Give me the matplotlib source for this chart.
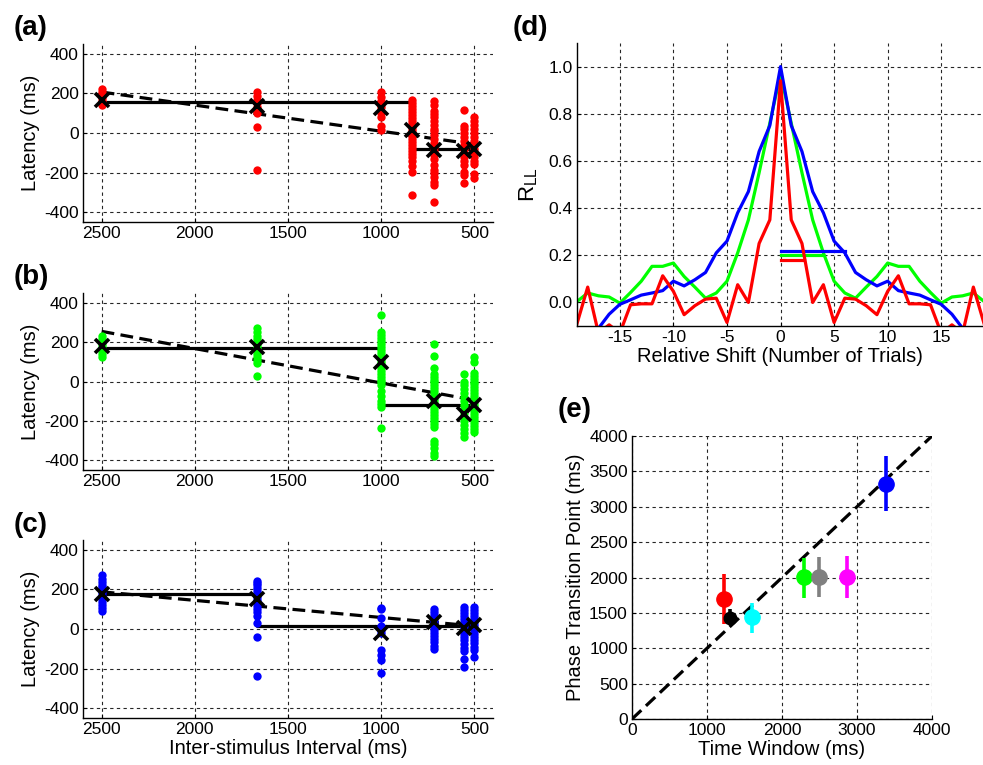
import matplotlib
matplotlib.use("Agg")
import matplotlib.pyplot as plt

plt.rcParams.update({
    "font.family": ["Liberation Sans", "DejaVu Sans"],
    "axes.unicode_minus": False,
    "mathtext.fontset": "custom",
    "mathtext.rm": "Liberation Sans",
    "mathtext.it": "Liberation Sans",
})

# ---------------- latency vs inter-stimulus interval ----------------
isi_a = [2500, 1667, 1000, 833, 714, 556, 500]
lat_a = [
    [220, 205, 190, 175, 160, 150, 140],
    [205, 185, 165, 150, 130, 110, 100, 30, -188],
    [205, 180, 160, 130, 100, 80, 35, 15],
    [165, 150, 135, 120, 105, 90, 75, 60, 45, 30, 15, 0, -15, -30, -45, -60,
     -75, -90, -105, -120, -140, -165, -195, -315],
    [160, 140, 110, 95, 80, 60, 40, 20, 10, -10, -30, -50, -70, -90, -110,
     -130, -160, -185, -200, -220, -250, -265, -350],
    [115, 35, 20, 0, -20, -40, -60, -80, -100, -120, -140, -160, -195, -210, -255],
    [80, 60, 40, 20, 0, -20, -40, -60, -80, -100, -120, -140, -155, -205, -225],
]
mean_a = [168, 134, 128, 13, -84, -92, -80]
step_a_x = [2500, 833, 500]
step_a_y = [155, -79]
fit_a_x = [2500, 500]
fit_a_y = [207, -57]

isi_b = [2500, 1667, 1000, 714, 556, 500]
lat_b = [
    [230, 215, 200, 185, 170, 155, 140, 125],
    [270, 250, 230, 215, 200, 185, 170, 155, 140, 125, 110, 95, 30],
    [340, 250, 235, 220, 205, 190, 175, 160, 145, 130, 115, 100, 85, 70, 55,
     40, 25, 10, -5, -20, -50, -75, -100, -115, -130, -238],
    [192, 130, 70, 40, 25, 10, -5, -20, -35, -50, -65, -80, -95, -110, -125,
     -140, -155, -170, -185, -200, -215, -230, -300, -320, -340, -365, -380],
    [40, 0, -20, -40, -60, -80, -100, -120, -140, -160, -180, -200, -220,
     -240, -260, -280],
    [124, 98, 45, 30, 15, 0, -15, -30, -45, -60, -75, -90, -105, -120, -135,
     -150, -165, -180, -195, -210, -225, -240, -258],
]
mean_b = [182, 174, 98, -100, -164, -121]
step_b_x = [2500, 1000, 500]
step_b_y = [172, -121]
fit_b_x = [2500, 500]
fit_b_y = [255, -95]

isi_c = [2500, 1667, 1000, 714, 556, 500]
lat_c = [
    [275, 255, 240, 225, 210, 195, 180, 165, 150, 135, 120, 105, 90],
    [245, 235, 220, 205, 190, 175, 160, 145, 130, 115, 100, 85, 65, 30, -38, -240],
    [105, 100, 55, 15, -5, -20, -105, -130, -155, -220],
    [100, 85, 70, 55, 40, 25, 10, -5, -20, -35, -50, -65, -85, -100],
    [110, 95, 80, 65, 50, 35, 20, 5, -10, -25, -40, -55, -75, -95, -110, -150, -190],
    [110, 95, 80, 65, 50, 35, 20, 5, -10, -25, -40, -55, -70, -90, -105, -140],
]
mean_c = [176, 154, -18, 37, 7, 20]
step_c_x = [2500, 1667, 500]
step_c_y = [176, 15]
fit_c_x = [2500, 500]
fit_c_y = [188, 15]

isi_ticks = [2500, 2000, 1500, 1000, 500]
lat_ticks = [400, 200, 0, -200, -400]

# ---------------- latency autocorrelation ----------------
shift = list(range(-19, 20))
r_green = [0.004, 0.04, 0.028, 0.023, -0.003, 0.042, 0.09, 0.153, 0.153, 0.167,
           0.11, 0.065, 0.018, 0.04, 0.09, 0.21, 0.35, 0.55, 0.76, 0.97,
           0.76, 0.55, 0.35, 0.21, 0.09, 0.04, 0.018, 0.065, 0.11, 0.167,
           0.153, 0.153, 0.09, 0.042, -0.003, 0.023, 0.028, 0.04, 0.004]
r_blue = [-0.2, -0.16, -0.11, -0.05, -0.008, 0.011, 0.031, 0.04, 0.05, 0.09,
          0.07, 0.096, 0.127, 0.21, 0.26, 0.38, 0.47, 0.64, 0.75, 1.0,
          0.75, 0.64, 0.47, 0.38, 0.26, 0.21, 0.127, 0.096, 0.07, 0.09,
          0.05, 0.04, 0.031, 0.011, -0.008, -0.05, -0.11, -0.16, -0.2]
r_red = [-0.09, 0.065, -0.13, -0.095, -0.13, -0.01, -0.006, -0.006, 0.113, 0.047,
         -0.052, -0.014, 0.014, 0.018, -0.085, 0.075, 0.0, 0.25, 0.35, 0.94,
         0.35, 0.25, 0.0, 0.075, -0.085, 0.018, 0.014, -0.014, -0.052, 0.047,
         0.113, -0.006, -0.006, -0.01, -0.13, -0.095, -0.13, 0.065, -0.09]
half_width = {"green": (4.0, 0.20), "blue": (6.0, 0.22), "red": (2.2, 0.18)}

# ---------------- phase transition point vs time window ----------------
tw_x = [1300, 1220, 1596, 2293, 2492, 2860, 3392]
tw_y = [1424, 1692, 1438, 2002, 2011, 2011, 3327]
tw_lo = [1350, 1339, 1222, 1706, 1729, 1706, 2937]
tw_hi = [1560, 2044, 1645, 2270, 2284, 2307, 3712]
tw_colors = ["black", "red", "cyan", "lime", "gray", "magenta", "blue"]

W, H = 983, 765
fig = plt.figure(figsize=(W / 100, H / 100), dpi=100)


def add_axes_px(left, top, right, bottom):
    return fig.add_axes([left / W, 1 - bottom / H, (right - left) / W, (bottom - top) / H])


def style(ax):
    for s in ("top", "right"):
        ax.spines[s].set_visible(False)
    for s in ("left", "bottom"):
        ax.spines[s].set_linewidth(1.0)
    ax.grid(True, color="0.15", linestyle=(0, (3, 3)), linewidth=0.8)
    ax.set_axisbelow(True)
    ax.tick_params(direction="in", length=3, labelsize=12.5, width=0.8, pad=3)


def latency_panel(ax, isi, lat, means, sx, sy, fx, fy, color, xlabel=False):
    style(ax)
    # dashed regression line
    ax.plot(fx, fy, color="black", lw=2.3, linestyle=(0, (4, 2)), zorder=2)
    # step fit
    xs, ys = [], []
    for i, level in enumerate(sy):
        xs += [sx[i], sx[i + 1]]
        ys += [level, level]
    ax.plot(xs, ys, color="black", lw=2.3, zorder=2)
    for x, vals in zip(isi, lat):
        ax.plot([x] * len(vals), vals, "o", color=color, ms=6, mec="none", zorder=3)
    ax.plot(isi, means, "x", color="black", ms=10, mew=2.6, zorder=4)
    ax.set_xlim(2600, 400)
    ax.set_ylim(-450, 450)
    ax.set_xticks(isi_ticks)
    ax.set_yticks(lat_ticks)
    ax.set_ylabel("Latency (ms)", fontsize=14.5, labelpad=3)
    if xlabel:
        ax.set_xlabel("Inter-stimulus Interval (ms)", fontsize=14.5, labelpad=1)


ax_a = add_axes_px(83, 44, 493, 222)
latency_panel(ax_a, isi_a, lat_a, mean_a, step_a_x, step_a_y, fit_a_x, fit_a_y, "red")
ax_b = add_axes_px(83, 293, 493, 470)
latency_panel(ax_b, isi_b, lat_b, mean_b, step_b_x, step_b_y, fit_b_x, fit_b_y, "lime")
ax_c = add_axes_px(83, 540, 493, 718)
latency_panel(ax_c, isi_c, lat_c, mean_c, step_c_x, step_c_y, fit_c_x, fit_c_y, "blue",
              xlabel=True)

# autocorrelation panel
ax_d = add_axes_px(577, 43, 983, 326)
style(ax_d)
for name, vals, col in (("green", r_green, "lime"), ("blue", r_blue, "blue"),
                        ("red", r_red, "red")):
    ax_d.plot(shift, vals, color=col, lw=2.3)
    width, level = half_width[name]
    ax_d.plot([0, width], [level, level], color=col, lw=2.3)
ax_d.set_xlim(-19, 18.9)
ax_d.set_ylim(-0.1, 1.1)
ax_d.set_xticks([-15, -10, -5, 0, 5, 10, 15])
ax_d.set_yticks([0.0, 0.2, 0.4, 0.6, 0.8, 1.0])
ax_d.set_yticklabels(["0.0", "0.2", "0.4", "0.6", "0.8", "1.0"])
ax_d.set_xlabel("Relative Shift (Number of Trials)", fontsize=14.5, labelpad=1)
ax_d.set_ylabel(r"$\mathregular{R_{LL}}$", fontsize=16, labelpad=6)

# phase transition panel
ax_e = add_axes_px(632, 436, 932, 719)
style(ax_e)
ax_e.plot([0, 4000], [0, 4000], color="black", lw=2.3, linestyle=(0, (4, 2)), zorder=2)
for x, y, lo, hi, col in zip(tw_x, tw_y, tw_lo, tw_hi, tw_colors):
    ms = 9 if col == "black" else 11
    ax_e.errorbar([x], [y], yerr=[[y - lo], [hi - y]], fmt="o", color=col, ms=ms,
                  mec=col, elinewidth=2.6, capsize=0, zorder=3)
ax_e.set_xlim(0, 4000)
ax_e.set_ylim(0, 4000)
ax_e.set_xticks([0, 1000, 2000, 3000, 4000])
ax_e.set_yticks(list(range(0, 4001, 500)))
ax_e.set_xlabel("Time Window (ms)", fontsize=14.5, labelpad=1)
ax_e.set_ylabel("Phase Transition Point (ms)", fontsize=14.5, labelpad=3)

# panel letters
for label, x, y in (("(a)", 14, 28), ("(b)", 14, 277), ("(c)", 14, 525),
                    ("(d)", 513, 28), ("(e)", 558, 410)):
    fig.text(x / W, 1 - y / H, label, fontsize=20, fontweight="bold",
             ha="left", va="center")

fig.savefig("out.png", dpi=100)
